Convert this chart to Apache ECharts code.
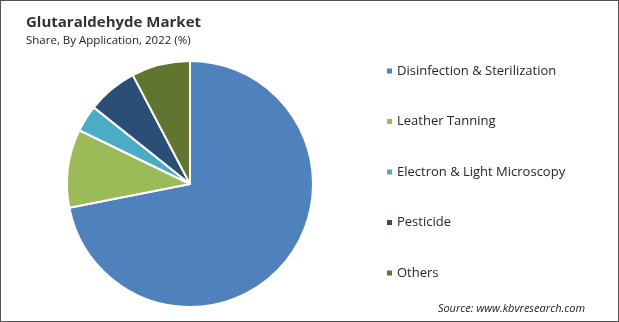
<!DOCTYPE html>
<html><head><meta charset="utf-8">
<script src="https://cdn.jsdelivr.net/npm/echarts@6/dist/echarts.min.js"></script>
<style>html,body{margin:0;padding:0;background:#fff;}#c{width:619px;height:322px;box-sizing:border-box;border:1px solid #555;}</style>
</head><body><div id="c"></div>
<script>
const categories = ["Disinfection & Sterilization","Leather Tanning","Electron & Light Microscopy","Pesticide","Others"];
const values = [71.9, 10.3, 3.5, 6.6, 7.7];
const colors = ["#4F81BD","#9BBB59","#4BACC6","#2C4D75","#5F7530"];
const font = "'Open Sans', 'Noto Sans', sans-serif";
const chart = echarts.init(document.getElementById('c'));
chart.setOption({
  animation:false,
  color: colors,
  title:{
    text:"Glutaraldehyde Market",
    subtext:"Share, By Application, 2022 (%)",
    left:20, top:9, itemGap:5,
    textStyle:{fontFamily:font,fontSize:15,fontWeight:'bold',color:'#333'},
    subtextStyle:{fontFamily:font,fontSize:11.5,color:'#222'}
  },
  legend:{
    orient:'vertical', left:379, top:58,
    itemWidth:7, itemHeight:7, itemGap:36.5, icon:'rect',
    textStyle:{fontFamily:font,fontSize:13,color:'#262626',lineHeight:14,padding:[0,0,0,-1]},
    data: categories
  },
  graphic:[{
    type:'text', right:33, top:302,
    style:{text:"Source: www.kbvresearch.com", font:"italic 11px "+font, fill:'#222'}
  }],
  series:[{
    type:'pie', center:[189,183], radius:123, startAngle:90, clockwise:true,
    label:{show:false}, labelLine:{show:false},
    itemStyle:{borderColor:'#fff',borderWidth:2},
    data: categories.map((c,i)=>({name:c,value:values[i]}))
  }]
});
</script></body></html>
